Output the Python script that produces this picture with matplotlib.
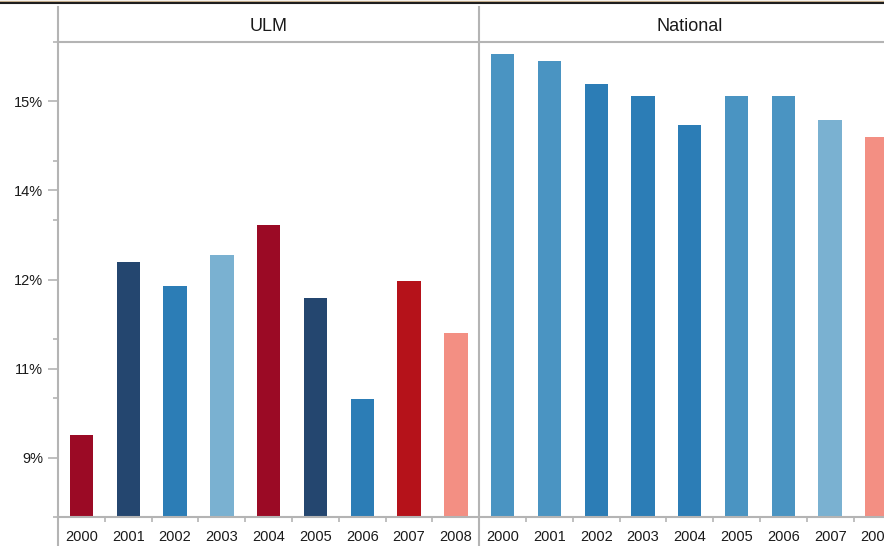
# ULM vs National 연도별 막대그래프

import matplotlib
matplotlib.use("Agg")
import matplotlib.pyplot as plt
import matplotlib.transforms as mtransforms
from matplotlib.lines import Line2D
import numpy as np

plt.rcParams['font.family'] = ['Liberation Sans', 'DejaVu Sans']

years = ['2000', '2001', '2002', '2003', '2004', '2005', '2006', '2007', '2008']
panels = ['ULM', 'National']
ulm = [9.38, 12.29, 11.89, 12.41, 12.91, 11.69, 9.99, 11.97, 11.10]
national = [15.80, 15.68, 15.29, 15.09, 14.60, 15.09, 15.09, 14.69, 14.40]
ulm_colors = ['#9B0A25', '#24466F', '#2C7DB6', '#7AB1D1', '#9B0A25',
              '#24466F', '#2C7DB6', '#B5121A', '#F38F83']
nat_colors = ['#4A94C2', '#4A94C2', '#2C7DB6', '#2C7DB6', '#2C7DB6',
              '#4A94C2', '#4A94C2', '#7AB1D1', '#F38F83']
ytick_vals = [9, 10.5, 12, 13.5, 15]
ytick_labels = ['9%', '11%', '12%', '14%', '15%']
yminor_vals = [8, 10, 11, 13, 14, 16]

gray = '#B4B4B4'
W, H = 884, 546
fig = plt.figure(figsize=(W / 100, H / 100), dpi=100)
ax = fig.add_axes([58 / W, 29 / H, 842.4 / W, 475 / H])

values = ulm + national
colors = ulm_colors + nat_colors
x = np.arange(len(values))
ax.bar(x, values, width=0.5, color=colors, zorder=2)

ax.set_xlim(-0.5, len(values) - 0.5)
ax.set_ylim(8, 16)

ax.set_yticks(ytick_vals)
ax.set_yticklabels(ytick_labels)
ax.set_yticks(yminor_vals, minor=True)
ax.set_xticks(x)
ax.set_xticklabels(years + years)
ax.set_xticks(np.arange(len(values) - 1) + 0.5, minor=True)

ax.tick_params(axis='y', which='major', length=7.2, width=1.2, color=gray,
               pad=3.6, labelsize=10.5, labelcolor='#1a1a1a')
ax.tick_params(axis='y', which='minor', length=3.6, width=1.2, color=gray)
ax.tick_params(axis='x', which='major', length=0, pad=9.5,
               labelsize=10.5, labelcolor='#1a1a1a')
ax.tick_params(axis='x', which='minor', length=3.6, width=1.2, color=gray)

for s in ['right', 'left']:
    ax.spines[s].set_visible(False)
for s in ['top', 'bottom']:
    ax.spines[s].set_color(gray)
    ax.spines[s].set_linewidth(1.5)
    ax.spines[s].set_zorder(3)

# 세로선 (왼쪽 축, 패널 구분선)
trans = mtransforms.blended_transform_factory(ax.transData, ax.transAxes)
for xv in [-0.5, len(ulm) - 0.5]:
    ax.add_line(Line2D([xv, xv], [-0.07, 1.074], transform=trans,
                       color=gray, lw=1.5, clip_on=False, zorder=3))

# 패널 제목
for i, name in enumerate(panels):
    cx = i * len(ulm) + (len(ulm) - 1) / 2
    ax.text(cx, 1.0316, name, transform=trans, ha='center', va='center',
            fontsize=13, color='#1a1a1a')

# 위쪽 테두리
fig.add_artist(Line2D([0, 1], [1 - 0.6 / H] * 2, color='#C9B28F', lw=1.0))
fig.add_artist(Line2D([0, 1], [1 - 2.5 / H] * 2, color='#1e1e1e', lw=1.5))

fig.savefig('out.png', dpi=100)
